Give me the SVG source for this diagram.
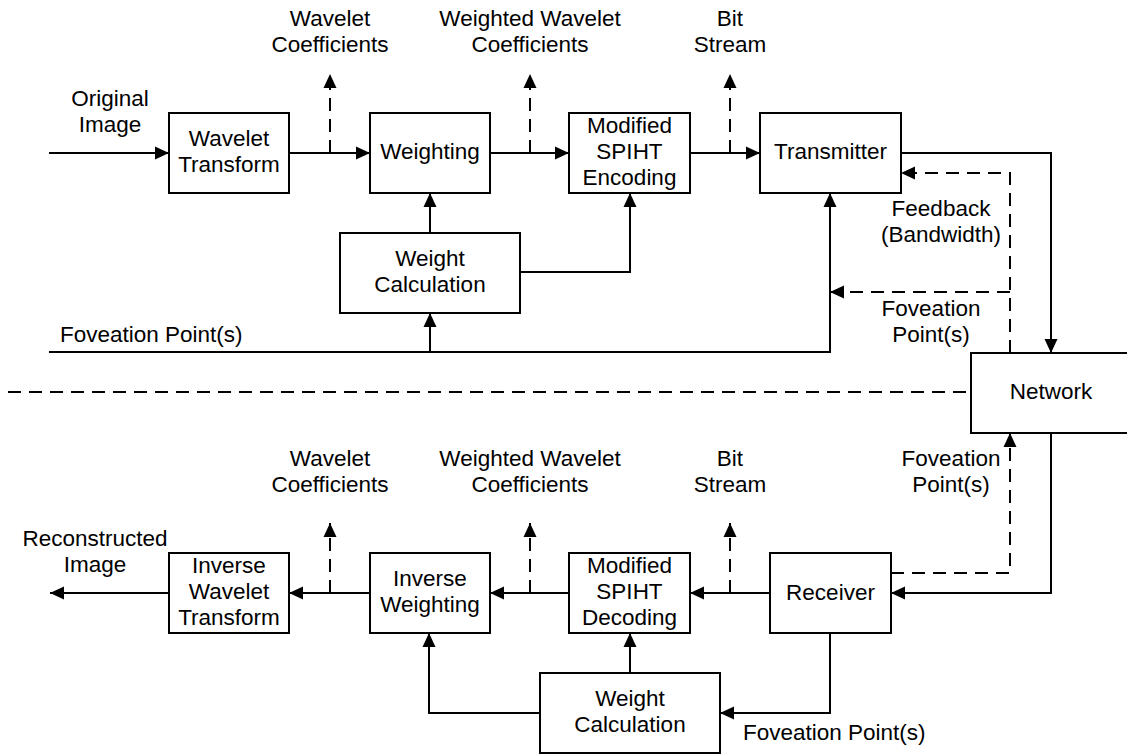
<svg xmlns="http://www.w3.org/2000/svg" width="1127" height="755" viewBox="0 0 1127 755">
<style>
.box{fill:#fff;stroke:#000;stroke-width:2}
.c{fill:none;stroke:#000;stroke-width:2}
.d{stroke-dasharray:13 8}
text{font-family:"Liberation Sans",Arial,sans-serif;font-size:22.5px;fill:#000}
.m{text-anchor:middle}
</style>
<defs>
<marker id="ah" viewBox="0 0 14 14" refX="14" refY="7" markerWidth="14" markerHeight="14" markerUnits="userSpaceOnUse" orient="auto">
<path d="M0,0.5 L14,7 L0,13.5 z" fill="#000"/>
</marker>
</defs>
<rect width="1127" height="755" fill="#fff"/>
<g id="connectors">
<path class="c" d="M49,153 H169" marker-end="url(#ah)"/>
<path class="c" d="M289,153 H370" marker-end="url(#ah)"/>
<path class="c d" d="M330,153 V74" marker-end="url(#ah)"/>
<path class="c" d="M490,153 H569" marker-end="url(#ah)"/>
<path class="c d" d="M530,153 V74" marker-end="url(#ah)"/>
<path class="c" d="M690,153 H760" marker-end="url(#ah)"/>
<path class="c d" d="M730,153 V74" marker-end="url(#ah)"/>
<path class="c" d="M901,153 H1051 V353" marker-end="url(#ah)"/>
<path class="c d" d="M1010,353 V173 H901" marker-end="url(#ah)"/>
<path class="c d" d="M1010,292 H830" marker-end="url(#ah)"/>
<path class="c" d="M49,352 H830 V193" marker-end="url(#ah)"/>
<path class="c" d="M430,352 V313" marker-end="url(#ah)"/>
<path class="c" d="M430,233 V193" marker-end="url(#ah)"/>
<path class="c" d="M520,272 H630 V193" marker-end="url(#ah)"/>
<path class="c d" d="M8,392 H971"/>
<path class="c" d="M1051,433 V593 H891" marker-end="url(#ah)"/>
<path class="c d" d="M891,573 H1010 V433" marker-end="url(#ah)"/>
<path class="c" d="M770,593 H690" marker-end="url(#ah)"/>
<path class="c d" d="M730,593 V523" marker-end="url(#ah)"/>
<path class="c" d="M569,593 H490" marker-end="url(#ah)"/>
<path class="c d" d="M530,593 V523" marker-end="url(#ah)"/>
<path class="c" d="M370,593 H289" marker-end="url(#ah)"/>
<path class="c d" d="M330,593 V523" marker-end="url(#ah)"/>
<path class="c" d="M169,593 H50" marker-end="url(#ah)"/>
<path class="c" d="M830,633 V713 H720" marker-end="url(#ah)"/>
<path class="c" d="M630,673 V633" marker-end="url(#ah)"/>
<path class="c" d="M540,713 H429 V633" marker-end="url(#ah)"/>
</g>
<g id="labels">
<text class="m" x="110" y="106">Original</text>
<text class="m" x="110" y="132">Image</text>
<text class="m" x="330" y="26">Wavelet</text>
<text class="m" x="330" y="52">Coefficients</text>
<text class="m" x="530" y="26">Weighted Wavelet</text>
<text class="m" x="530" y="52">Coefficients</text>
<text class="m" x="730" y="26">Bit</text>
<text class="m" x="730" y="52">Stream</text>
<text class="m" x="941" y="216">Feedback</text>
<text class="m" x="941" y="242">(Bandwidth)</text>
<text class="m" x="931" y="316">Foveation</text>
<text class="m" x="931" y="342">Point(s)</text>
<text x="60" y="342">Foveation Point(s)</text>
<text class="m" x="951" y="466">Foveation</text>
<text class="m" x="951" y="492">Point(s)</text>
<text class="m" x="330" y="466">Wavelet</text>
<text class="m" x="330" y="492">Coefficients</text>
<text class="m" x="530" y="466">Weighted Wavelet</text>
<text class="m" x="530" y="492">Coefficients</text>
<text class="m" x="730" y="466">Bit</text>
<text class="m" x="730" y="492">Stream</text>
<text class="m" x="95" y="546">Reconstructed</text>
<text class="m" x="95" y="572">Image</text>
<text x="743" y="740">Foveation Point(s)</text>
</g>
<g id="wavelet-transform">
<rect class="box" x="169" y="113" width="120" height="80"/>
<text class="m" x="229" y="146">Wavelet</text>
<text class="m" x="229" y="172">Transform</text>
</g>
<g id="weighting">
<rect class="box" x="370" y="113" width="120" height="80"/>
<text class="m" x="430" y="159">Weighting</text>
</g>
<g id="spiht-encoding">
<rect class="box" x="569" y="113" width="121" height="80"/>
<text class="m" x="629.5" y="133">Modified</text>
<text class="m" x="629.5" y="159">SPIHT</text>
<text class="m" x="629.5" y="185">Encoding</text>
</g>
<g id="transmitter">
<rect class="box" x="760" y="113" width="141" height="80"/>
<text class="m" x="830.5" y="159">Transmitter</text>
</g>
<g id="weight-calc-top">
<rect class="box" x="340" y="233" width="180" height="80"/>
<text class="m" x="430" y="266">Weight</text>
<text class="m" x="430" y="292">Calculation</text>
</g>
<g id="network">
<rect class="box" x="971" y="353" width="165" height="80"/>
<text class="m" x="1051" y="399">Network</text>
</g>
<g id="receiver">
<rect class="box" x="770" y="553" width="121" height="80"/>
<text class="m" x="830.5" y="600">Receiver</text>
</g>
<g id="spiht-decoding">
<rect class="box" x="569" y="553" width="121" height="80"/>
<text class="m" x="629.5" y="573">Modified</text>
<text class="m" x="629.5" y="599">SPIHT</text>
<text class="m" x="629.5" y="625">Decoding</text>
</g>
<g id="inverse-weighting">
<rect class="box" x="370" y="553" width="120" height="80"/>
<text class="m" x="430" y="586">Inverse</text>
<text class="m" x="430" y="612">Weighting</text>
</g>
<g id="inverse-wavelet">
<rect class="box" x="169" y="553" width="120" height="80"/>
<text class="m" x="229" y="573">Inverse</text>
<text class="m" x="229" y="599">Wavelet</text>
<text class="m" x="229" y="625">Transform</text>
</g>
<g id="weight-calc-bottom">
<rect class="box" x="540" y="673" width="180" height="80"/>
<text class="m" x="630" y="706">Weight</text>
<text class="m" x="630" y="732">Calculation</text>
</g>
</svg>
